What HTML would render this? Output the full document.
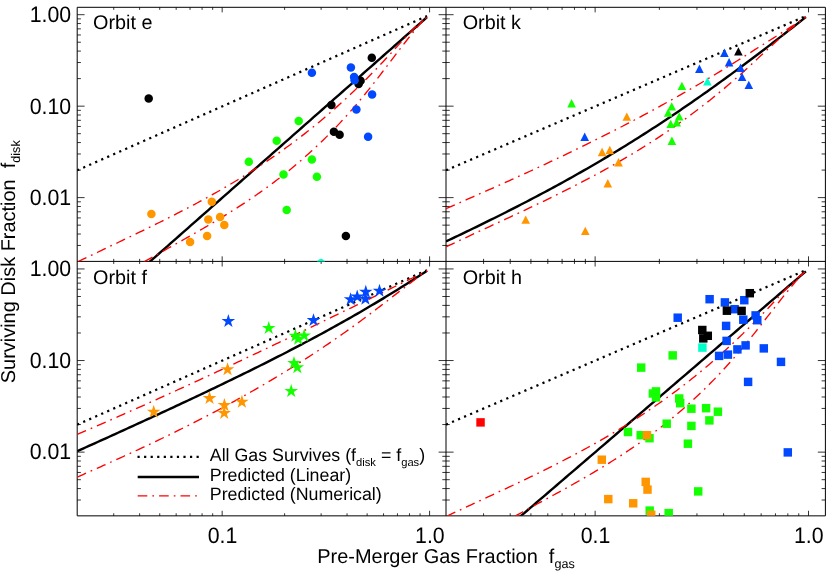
<!DOCTYPE html>
<html><head><meta charset="utf-8"><title>Surviving disk fraction</title>
<style>html,body{margin:0;padding:0;background:#fff}svg{display:block}text{font-family:"Liberation Sans",sans-serif;fill:#000;text-rendering:geometricPrecision}svg{will-change:transform;opacity:.999}</style></head><body>
<svg width="830" height="573" viewBox="0 0 830 573">
<rect width="830" height="573" fill="#fff"/>
<path d="M113.72 7.3L113.72 9.84M113.72 261.4L113.72 258.86M139.64 7.3L139.64 9.84M139.64 261.4L139.64 258.86M159.74 7.3L159.74 9.84M159.74 261.4L159.74 258.86M176.16 7.3L176.16 9.84M176.16 261.4L176.16 258.86M190.04 7.3L190.04 9.84M190.04 261.4L190.04 258.86M202.07 7.3L202.07 9.84M202.07 261.4L202.07 258.86M212.68 7.3L212.68 9.84M212.68 261.4L212.68 258.86M222.17 7.3L222.17 12.38M222.17 261.4L222.17 256.32M284.61 7.3L284.61 9.84M284.61 261.4L284.61 258.86M321.13 7.3L321.13 9.84M321.13 261.4L321.13 258.86M347.04 7.3L347.04 9.84M347.04 261.4L347.04 258.86M367.14 7.3L367.14 9.84M367.14 261.4L367.14 258.86M383.56 7.3L383.56 9.84M383.56 261.4L383.56 258.86M397.45 7.3L397.45 9.84M397.45 261.4L397.45 258.86M409.48 7.3L409.48 9.84M409.48 261.4L409.48 258.86M420.09 7.3L420.09 9.84M420.09 261.4L420.09 258.86M429.58 7.3L429.58 12.38M429.58 261.4L429.58 256.32M77.2 245.44L80.89 245.44M446 245.44L442.31 245.44M77.2 234.02L80.89 234.02M446 234.02L442.31 234.02M77.2 225.15L80.89 225.15M446 225.15L442.31 225.15M77.2 217.91L80.89 217.91M446 217.91L442.31 217.91M77.2 211.79L80.89 211.79M446 211.79L442.31 211.79M77.2 206.48L80.89 206.48M446 206.48L442.31 206.48M77.2 201.8L80.89 201.8M446 201.8L442.31 201.8M77.2 197.62L84.58 197.62M446 197.62L438.62 197.62M77.2 170.09L80.89 170.09M446 170.09L442.31 170.09M77.2 153.98L80.89 153.98M446 153.98L442.31 153.98M77.2 142.55L80.89 142.55M446 142.55L442.31 142.55M77.2 133.69L80.89 133.69M446 133.69L442.31 133.69M77.2 126.45L80.89 126.45M446 126.45L442.31 126.45M77.2 120.32L80.89 120.32M446 120.32L442.31 120.32M77.2 115.02L80.89 115.02M446 115.02L442.31 115.02M77.2 110.34L80.89 110.34M446 110.34L442.31 110.34M77.2 106.16L84.58 106.16M446 106.16L438.62 106.16M77.2 78.62L80.89 78.62M446 78.62L442.31 78.62M77.2 62.52L80.89 62.52M446 62.52L442.31 62.52M77.2 51.09L80.89 51.09M446 51.09L442.31 51.09M77.2 42.23L80.89 42.23M446 42.23L442.31 42.23M77.2 34.98L80.89 34.98M446 34.98L442.31 34.98M77.2 28.86L80.89 28.86M446 28.86L442.31 28.86M77.2 23.56L80.89 23.56M446 23.56L442.31 23.56M77.2 18.88L80.89 18.88M446 18.88L442.31 18.88M77.2 14.69L84.58 14.69M446 14.69L438.62 14.69" fill="none" stroke="#000" stroke-width="0.8"/>
<path d="M483.57 7.3L483.57 9.84M483.57 261.4L483.57 258.86M510.23 7.3L510.23 9.84M510.23 261.4L510.23 258.86M530.91 7.3L530.91 9.84M530.91 261.4L530.91 258.86M547.8 7.3L547.8 9.84M547.8 261.4L547.8 258.86M562.09 7.3L562.09 9.84M562.09 261.4L562.09 258.86M574.46 7.3L574.46 9.84M574.46 261.4L574.46 258.86M585.37 7.3L585.37 9.84M585.37 261.4L585.37 258.86M595.14 7.3L595.14 12.38M595.14 261.4L595.14 256.32M659.37 7.3L659.37 9.84M659.37 261.4L659.37 258.86M696.94 7.3L696.94 9.84M696.94 261.4L696.94 258.86M723.6 7.3L723.6 9.84M723.6 261.4L723.6 258.86M744.28 7.3L744.28 9.84M744.28 261.4L744.28 258.86M761.17 7.3L761.17 9.84M761.17 261.4L761.17 258.86M775.45 7.3L775.45 9.84M775.45 261.4L775.45 258.86M787.83 7.3L787.83 9.84M787.83 261.4L787.83 258.86M798.74 7.3L798.74 9.84M798.74 261.4L798.74 258.86M808.51 7.3L808.51 12.38M808.51 261.4L808.51 256.32M446 245.44L449.79 245.44M825.4 245.44L821.61 245.44M446 234.02L449.79 234.02M825.4 234.02L821.61 234.02M446 225.15L449.79 225.15M825.4 225.15L821.61 225.15M446 217.91L449.79 217.91M825.4 217.91L821.61 217.91M446 211.79L449.79 211.79M825.4 211.79L821.61 211.79M446 206.48L449.79 206.48M825.4 206.48L821.61 206.48M446 201.8L449.79 201.8M825.4 201.8L821.61 201.8M446 197.62L453.59 197.62M825.4 197.62L817.81 197.62M446 170.09L449.79 170.09M825.4 170.09L821.61 170.09M446 153.98L449.79 153.98M825.4 153.98L821.61 153.98M446 142.55L449.79 142.55M825.4 142.55L821.61 142.55M446 133.69L449.79 133.69M825.4 133.69L821.61 133.69M446 126.45L449.79 126.45M825.4 126.45L821.61 126.45M446 120.32L449.79 120.32M825.4 120.32L821.61 120.32M446 115.02L449.79 115.02M825.4 115.02L821.61 115.02M446 110.34L449.79 110.34M825.4 110.34L821.61 110.34M446 106.16L453.59 106.16M825.4 106.16L817.81 106.16M446 78.62L449.79 78.62M825.4 78.62L821.61 78.62M446 62.52L449.79 62.52M825.4 62.52L821.61 62.52M446 51.09L449.79 51.09M825.4 51.09L821.61 51.09M446 42.23L449.79 42.23M825.4 42.23L821.61 42.23M446 34.98L449.79 34.98M825.4 34.98L821.61 34.98M446 28.86L449.79 28.86M825.4 28.86L821.61 28.86M446 23.56L449.79 23.56M825.4 23.56L821.61 23.56M446 18.88L449.79 18.88M825.4 18.88L821.61 18.88M446 14.69L453.59 14.69M825.4 14.69L817.81 14.69" fill="none" stroke="#000" stroke-width="0.8"/>
<path d="M113.72 261.4L113.72 263.94M113.72 515.85L113.72 513.31M139.64 261.4L139.64 263.94M139.64 515.85L139.64 513.31M159.74 261.4L159.74 263.94M159.74 515.85L159.74 513.31M176.16 261.4L176.16 263.94M176.16 515.85L176.16 513.31M190.04 261.4L190.04 263.94M190.04 515.85L190.04 513.31M202.07 261.4L202.07 263.94M202.07 515.85L202.07 513.31M212.68 261.4L212.68 263.94M212.68 515.85L212.68 513.31M222.17 261.4L222.17 266.49M222.17 515.85L222.17 510.76M284.61 261.4L284.61 263.94M284.61 515.85L284.61 513.31M321.13 261.4L321.13 263.94M321.13 515.85L321.13 513.31M347.04 261.4L347.04 263.94M347.04 515.85L347.04 513.31M367.14 261.4L367.14 263.94M367.14 515.85L367.14 513.31M383.56 261.4L383.56 263.94M383.56 515.85L383.56 513.31M397.45 261.4L397.45 263.94M397.45 515.85L397.45 513.31M409.48 261.4L409.48 263.94M409.48 515.85L409.48 513.31M420.09 261.4L420.09 263.94M420.09 515.85L420.09 513.31M429.58 261.4L429.58 266.49M429.58 515.85L429.58 510.76M77.2 500.02L80.89 500.02M446 500.02L442.31 500.02M77.2 488.58L80.89 488.58M446 488.58L442.31 488.58M77.2 479.7L80.89 479.7M446 479.7L442.31 479.7M77.2 472.45L80.89 472.45M446 472.45L442.31 472.45M77.2 466.32L80.89 466.32M446 466.32L442.31 466.32M77.2 461.01L80.89 461.01M446 461.01L442.31 461.01M77.2 456.32L80.89 456.32M446 456.32L442.31 456.32M77.2 452.13L84.58 452.13M446 452.13L438.62 452.13M77.2 424.56L80.89 424.56M446 424.56L442.31 424.56M77.2 408.43L80.89 408.43M446 408.43L442.31 408.43M77.2 396.99L80.89 396.99M446 396.99L442.31 396.99M77.2 388.11L80.89 388.11M446 388.11L442.31 388.11M77.2 380.86L80.89 380.86M446 380.86L442.31 380.86M77.2 374.73L80.89 374.73M446 374.73L442.31 374.73M77.2 369.42L80.89 369.42M446 369.42L442.31 369.42M77.2 364.73L80.89 364.73M446 364.73L442.31 364.73M77.2 360.54L84.58 360.54M446 360.54L438.62 360.54M77.2 332.97L80.89 332.97M446 332.97L442.31 332.97M77.2 316.84L80.89 316.84M446 316.84L442.31 316.84M77.2 305.4L80.89 305.4M446 305.4L442.31 305.4M77.2 296.52L80.89 296.52M446 296.52L442.31 296.52M77.2 289.27L80.89 289.27M446 289.27L442.31 289.27M77.2 283.14L80.89 283.14M446 283.14L442.31 283.14M77.2 277.83L80.89 277.83M446 277.83L442.31 277.83M77.2 273.14L80.89 273.14M446 273.14L442.31 273.14M77.2 268.95L84.58 268.95M446 268.95L438.62 268.95" fill="none" stroke="#000" stroke-width="0.8"/>
<path d="M483.57 261.4L483.57 263.94M483.57 515.85L483.57 513.31M510.23 261.4L510.23 263.94M510.23 515.85L510.23 513.31M530.91 261.4L530.91 263.94M530.91 515.85L530.91 513.31M547.8 261.4L547.8 263.94M547.8 515.85L547.8 513.31M562.09 261.4L562.09 263.94M562.09 515.85L562.09 513.31M574.46 261.4L574.46 263.94M574.46 515.85L574.46 513.31M585.37 261.4L585.37 263.94M585.37 515.85L585.37 513.31M595.14 261.4L595.14 266.49M595.14 515.85L595.14 510.76M659.37 261.4L659.37 263.94M659.37 515.85L659.37 513.31M696.94 261.4L696.94 263.94M696.94 515.85L696.94 513.31M723.6 261.4L723.6 263.94M723.6 515.85L723.6 513.31M744.28 261.4L744.28 263.94M744.28 515.85L744.28 513.31M761.17 261.4L761.17 263.94M761.17 515.85L761.17 513.31M775.45 261.4L775.45 263.94M775.45 515.85L775.45 513.31M787.83 261.4L787.83 263.94M787.83 515.85L787.83 513.31M798.74 261.4L798.74 263.94M798.74 515.85L798.74 513.31M808.51 261.4L808.51 266.49M808.51 515.85L808.51 510.76M446 500.02L449.79 500.02M825.4 500.02L821.61 500.02M446 488.58L449.79 488.58M825.4 488.58L821.61 488.58M446 479.7L449.79 479.7M825.4 479.7L821.61 479.7M446 472.45L449.79 472.45M825.4 472.45L821.61 472.45M446 466.32L449.79 466.32M825.4 466.32L821.61 466.32M446 461.01L449.79 461.01M825.4 461.01L821.61 461.01M446 456.32L449.79 456.32M825.4 456.32L821.61 456.32M446 452.13L453.59 452.13M825.4 452.13L817.81 452.13M446 424.56L449.79 424.56M825.4 424.56L821.61 424.56M446 408.43L449.79 408.43M825.4 408.43L821.61 408.43M446 396.99L449.79 396.99M825.4 396.99L821.61 396.99M446 388.11L449.79 388.11M825.4 388.11L821.61 388.11M446 380.86L449.79 380.86M825.4 380.86L821.61 380.86M446 374.73L449.79 374.73M825.4 374.73L821.61 374.73M446 369.42L449.79 369.42M825.4 369.42L821.61 369.42M446 364.73L449.79 364.73M825.4 364.73L821.61 364.73M446 360.54L453.59 360.54M825.4 360.54L817.81 360.54M446 332.97L449.79 332.97M825.4 332.97L821.61 332.97M446 316.84L449.79 316.84M825.4 316.84L821.61 316.84M446 305.4L449.79 305.4M825.4 305.4L821.61 305.4M446 296.52L449.79 296.52M825.4 296.52L821.61 296.52M446 289.27L449.79 289.27M825.4 289.27L821.61 289.27M446 283.14L449.79 283.14M825.4 283.14L821.61 283.14M446 277.83L449.79 277.83M825.4 277.83L821.61 277.83M446 273.14L449.79 273.14M825.4 273.14L821.61 273.14M446 268.95L453.59 268.95M825.4 268.95L817.81 268.95" fill="none" stroke="#000" stroke-width="0.8"/>
<path d="M77.2 7.3H825.4V515.85H77.2ZM446 7.3V515.85M77.2 261.4H825.4" fill="none" stroke="#000" stroke-width="1.0"/>
<clipPath id="ce"><rect x="77.2" y="7.3" width="368.8" height="254.1"/></clipPath>
<g clip-path="url(#ce)" fill="none">
<path d="M77.2 170.34 L252.11 93.2 L427.02 16.07" stroke="#000" stroke-width="2.25" stroke-dasharray="2.2 4.36"/>
<path d="M77.2 325.73 L80.12 323.16 L83.03 320.59 L85.95 318.02 L88.86 315.45 L91.78 312.87 L94.69 310.3 L97.61 307.73 L100.52 305.16 L103.44 302.59 L106.35 300.02 L109.27 297.45 L112.18 294.88 L115.1 292.31 L118.01 289.73 L120.93 287.16 L123.84 284.59 L126.76 282.02 L129.67 279.45 L132.59 276.88 L135.5 274.31 L138.42 271.74 L141.33 269.17 L144.25 266.6 L147.16 264.02 L150.08 261.45 L152.99 258.88 L155.91 256.31 L158.82 253.74 L161.74 251.17 L164.65 248.6 L167.57 246.03 L170.49 243.46 L173.4 240.88 L176.32 238.31 L179.23 235.74 L182.15 233.17 L185.06 230.6 L187.98 228.03 L190.89 225.46 L193.81 222.89 L196.72 220.32 L199.64 217.74 L202.55 215.17 L205.47 212.6 L208.38 210.03 L211.3 207.46 L214.21 204.89 L217.13 202.32 L220.04 199.75 L222.96 197.18 L225.87 194.6 L228.79 192.03 L231.7 189.46 L234.62 186.89 L237.53 184.32 L240.45 181.75 L243.36 179.18 L246.28 176.61 L249.19 174.04 L252.11 171.46 L255.02 168.89 L257.94 166.32 L260.86 163.75 L263.77 161.18 L266.69 158.61 L269.6 156.04 L272.52 153.47 L275.43 150.9 L278.35 148.32 L281.26 145.75 L284.18 143.18 L287.09 140.61 L290.01 138.04 L292.92 135.47 L295.84 132.9 L298.75 130.33 L301.67 127.76 L304.58 125.18 L307.5 122.61 L310.41 120.04 L313.33 117.47 L316.24 114.9 L319.16 112.33 L322.07 109.76 L324.99 107.19 L327.9 104.62 L330.82 102.04 L333.73 99.47 L336.65 96.9 L339.56 94.33 L342.48 91.76 L345.39 89.19 L348.31 86.62 L351.23 84.05 L354.14 81.48 L357.06 78.9 L359.97 76.33 L362.89 73.76 L365.8 71.19 L368.72 68.62 L371.63 66.05 L374.55 63.48 L377.46 60.91 L380.38 58.34 L383.29 55.76 L386.21 53.19 L389.12 50.62 L392.04 48.05 L394.95 45.48 L397.87 42.91 L400.78 40.34 L403.7 37.77 L406.61 35.2 L409.53 32.62 L412.44 30.05 L415.36 27.48 L418.27 24.91 L421.19 22.34 L424.1 19.77 L427.02 17.2" stroke="#000" stroke-width="2.4"/>
<path d="M77.78 261.8 L80.69 260.39 L83.6 258.98 L86.51 257.58 L89.42 256.18 L92.33 254.79 L95.24 253.39 L98.16 252 L101.07 250.61 L103.98 249.22 L106.89 247.83 L109.8 246.44 L112.71 245.04 L115.62 243.65 L118.53 242.26 L121.44 240.87 L124.35 239.48 L127.26 238.09 L130.17 236.69 L133.08 235.29 L135.99 233.89 L138.9 232.48 L141.81 231.08 L144.72 229.67 L147.63 228.25 L150.54 226.83 L153.45 225.4 L156.36 223.96 L159.27 222.52 L162.18 221.07 L165.09 219.61 L168 218.15 L170.91 216.68 L173.82 215.2 L176.73 213.71 L179.64 212.21 L182.55 210.7 L185.46 209.19 L188.37 207.66 L191.28 206.13 L194.2 204.59 L197.11 203.03 L200.02 201.45 L202.93 199.87 L205.84 198.27 L208.75 196.66 L211.66 195.03 L214.57 193.4 L217.48 191.75 L220.39 190.08 L223.3 188.4 L226.21 186.7 L229.12 184.99 L232.03 183.26 L234.94 181.52 L237.85 179.75 L240.76 177.97 L243.67 176.18 L246.58 174.37 L249.49 172.54 L252.4 170.69 L255.31 168.81 L258.22 166.92 L261.13 165.01 L264.04 163.08 L266.95 161.12 L269.86 159.14 L272.77 157.14 L275.68 155.12 L278.59 153.08 L281.5 151.01 L284.41 148.92 L287.32 146.81 L290.24 144.68 L293.15 142.52 L296.06 140.33 L298.97 138.13 L301.88 135.89 L304.79 133.63 L307.7 131.34 L310.61 129.02 L313.52 126.68 L316.43 124.3 L319.34 121.9 L322.25 119.47 L325.16 117.01 L328.07 114.52 L330.98 112.01 L333.89 109.46 L336.8 106.88 L339.71 104.27 L342.62 101.63 L345.53 98.96 L348.44 96.26 L351.35 93.54 L354.26 90.78 L357.17 87.99 L360.08 85.16 L362.99 82.31 L365.9 79.42 L368.81 76.5 L371.72 73.55 L374.63 70.57 L377.54 67.55 L380.45 64.51 L383.36 61.44 L386.28 58.33 L389.19 55.19 L392.1 52.01 L395.01 48.8 L397.92 45.6 L400.83 42.4 L403.74 39.22 L406.65 36.1 L409.56 33.03 L412.47 30.06 L415.38 27.2 L418.29 24.46 L421.2 21.91 L424.11 19.51 L427.02 17.28" stroke="#ff0000" stroke-width="1.35" stroke-dasharray="9.6 5.05 1.7 5.05"/>
<path d="M144.14 261.8 L146.5 260.46 L148.86 259.12 L151.21 257.79 L153.57 256.45 L155.93 255.12 L158.28 253.8 L160.64 252.47 L163 251.15 L165.36 249.82 L167.71 248.5 L170.07 247.18 L172.43 245.86 L174.79 244.54 L177.14 243.22 L179.5 241.89 L181.86 240.56 L184.22 239.23 L186.57 237.9 L188.93 236.56 L191.29 235.23 L193.64 233.89 L196 232.55 L198.36 231.19 L200.72 229.83 L203.07 228.47 L205.43 227.09 L207.79 225.71 L210.15 224.33 L212.5 222.93 L214.86 221.53 L217.22 220.12 L219.58 218.7 L221.93 217.26 L224.29 215.82 L226.65 214.36 L229 212.9 L231.36 211.42 L233.72 209.93 L236.08 208.43 L238.43 206.92 L240.79 205.39 L243.15 203.86 L245.51 202.31 L247.86 200.74 L250.22 199.16 L252.58 197.56 L254.93 195.94 L257.29 194.3 L259.65 192.65 L262.01 190.99 L264.36 189.3 L266.72 187.6 L269.08 185.87 L271.44 184.13 L273.79 182.37 L276.15 180.58 L278.51 178.78 L280.87 176.95 L283.22 175.11 L285.58 173.24 L287.94 171.34 L290.29 169.43 L292.65 167.49 L295.01 165.53 L297.37 163.55 L299.72 161.54 L302.08 159.51 L304.44 157.44 L306.8 155.35 L309.15 153.24 L311.51 151.1 L313.87 148.93 L316.23 146.73 L318.58 144.5 L320.94 142.25 L323.3 139.96 L325.65 137.64 L328.01 135.3 L330.37 132.92 L332.73 130.51 L335.08 128.07 L337.44 125.6 L339.8 123.09 L342.16 120.55 L344.51 117.98 L346.87 115.38 L349.23 112.75 L351.58 110.08 L353.94 107.38 L356.3 104.63 L358.66 101.85 L361.01 99.03 L363.37 96.17 L365.73 93.27 L368.09 90.35 L370.44 87.39 L372.8 84.4 L375.16 81.39 L377.52 78.36 L379.87 75.31 L382.23 72.24 L384.59 69.16 L386.94 66.08 L389.3 62.98 L391.66 59.89 L394.02 56.8 L396.37 53.71 L398.73 50.64 L401.09 47.58 L403.45 44.53 L405.8 41.51 L408.16 38.48 L410.52 35.48 L412.88 32.54 L415.23 29.6 L417.59 26.72 L419.95 24.04 L422.3 21.55 L424.66 19.21 L427.02 17.03" stroke="#ff0000" stroke-width="1.35" stroke-dasharray="9.6 5.05 1.7 5.05"/>
</g><g clip-path="url(#ce)">
<circle cx="148.7" cy="98.6" r="4.25" fill="#000000"/>
<circle cx="371.8" cy="57.7" r="4.25" fill="#000000"/>
<circle cx="360.6" cy="80.7" r="4.25" fill="#000000"/>
<circle cx="358.6" cy="83.9" r="4.25" fill="#000000"/>
<circle cx="331.4" cy="105.1" r="4.25" fill="#000000"/>
<circle cx="333.9" cy="131.8" r="4.25" fill="#000000"/>
<circle cx="339.6" cy="134.8" r="4.25" fill="#000000"/>
<circle cx="345.9" cy="236.1" r="4.25" fill="#000000"/>
<circle cx="321" cy="263.35" r="4.25" fill="#00ffcc"/>
<circle cx="211.8" cy="201.8" r="4.25" fill="#ff9600"/>
<circle cx="151.4" cy="213.9" r="4.25" fill="#ff9600"/>
<circle cx="220.1" cy="216.9" r="4.25" fill="#ff9600"/>
<circle cx="208.3" cy="219.6" r="4.25" fill="#ff9600"/>
<circle cx="224.3" cy="224.9" r="4.25" fill="#ff9600"/>
<circle cx="207.1" cy="236.1" r="4.25" fill="#ff9600"/>
<circle cx="190.1" cy="241.9" r="4.25" fill="#ff9600"/>
<circle cx="298.7" cy="121.1" r="4.25" fill="#14ff00"/>
<circle cx="276.7" cy="140.7" r="4.25" fill="#14ff00"/>
<circle cx="248.8" cy="161.7" r="4.25" fill="#14ff00"/>
<circle cx="311.9" cy="159.5" r="4.25" fill="#14ff00"/>
<circle cx="283.5" cy="174.4" r="4.25" fill="#14ff00"/>
<circle cx="316.9" cy="176.7" r="4.25" fill="#14ff00"/>
<circle cx="286.7" cy="209.9" r="4.25" fill="#14ff00"/>
<circle cx="350.9" cy="67.4" r="4.25" fill="#0048ff"/>
<circle cx="311.9" cy="72.7" r="4.25" fill="#0048ff"/>
<circle cx="354.1" cy="76.9" r="4.25" fill="#0048ff"/>
<circle cx="354.6" cy="80.2" r="4.25" fill="#0048ff"/>
<circle cx="372.1" cy="94.4" r="4.25" fill="#0048ff"/>
<circle cx="356.4" cy="109.4" r="4.25" fill="#0048ff"/>
<circle cx="368.1" cy="136.8" r="4.25" fill="#0048ff"/>
</g>
<clipPath id="ck"><rect x="446" y="7.3" width="379.4" height="254.1"/></clipPath>
<g clip-path="url(#ck)" fill="none">
<path d="M446 170.34 L625.94 93.2 L805.87 16.07" stroke="#000" stroke-width="2.25" stroke-dasharray="2.2 4.36"/>
<path d="M446 241.43 L449 240.01 L452 238.59 L455 237.16 L458 235.73 L460.99 234.3 L463.99 232.86 L466.99 231.42 L469.99 229.97 L472.99 228.52 L475.99 227.06 L478.99 225.6 L481.99 224.13 L484.99 222.66 L487.99 221.18 L490.98 219.7 L493.98 218.21 L496.98 216.71 L499.98 215.21 L502.98 213.71 L505.98 212.2 L508.98 210.68 L511.98 209.16 L514.98 207.63 L517.97 206.09 L520.97 204.55 L523.97 203 L526.97 201.44 L529.97 199.88 L532.97 198.31 L535.97 196.73 L538.97 195.14 L541.97 193.55 L544.97 191.95 L547.96 190.34 L550.96 188.73 L553.96 187.1 L556.96 185.47 L559.96 183.83 L562.96 182.18 L565.96 180.52 L568.96 178.86 L571.96 177.18 L574.95 175.5 L577.95 173.81 L580.95 172.1 L583.95 170.39 L586.95 168.67 L589.95 166.94 L592.95 165.21 L595.95 163.46 L598.95 161.7 L601.95 159.93 L604.94 158.15 L607.94 156.37 L610.94 154.57 L613.94 152.76 L616.94 150.95 L619.94 149.12 L622.94 147.28 L625.94 145.43 L628.94 143.57 L631.93 141.71 L634.93 139.83 L637.93 137.94 L640.93 136.04 L643.93 134.13 L646.93 132.21 L649.93 130.28 L652.93 128.34 L655.93 126.39 L658.93 124.42 L661.92 122.45 L664.92 120.47 L667.92 118.48 L670.92 116.47 L673.92 114.46 L676.92 112.44 L679.92 110.4 L682.92 108.36 L685.92 106.31 L688.91 104.24 L691.91 102.17 L694.91 100.08 L697.91 97.99 L700.91 95.89 L703.91 93.78 L706.91 91.65 L709.91 89.52 L712.91 87.38 L715.91 85.23 L718.9 83.07 L721.9 80.9 L724.9 78.73 L727.9 76.54 L730.9 74.35 L733.9 72.14 L736.9 69.93 L739.9 67.71 L742.9 65.48 L745.89 63.25 L748.89 61 L751.89 58.75 L754.89 56.49 L757.89 54.23 L760.89 51.95 L763.89 49.67 L766.89 47.38 L769.89 45.08 L772.89 42.78 L775.88 40.47 L778.88 38.16 L781.88 35.83 L784.88 33.5 L787.88 31.17 L790.88 28.82 L793.88 26.48 L796.88 24.12 L799.88 21.76 L802.87 19.4 L805.87 17.03" stroke="#000" stroke-width="2.4"/>
<path d="M446 208.63 L449 207.33 L452 206.02 L455 204.71 L458 203.41 L460.99 202.1 L463.99 200.79 L466.99 199.47 L469.99 198.15 L472.99 196.83 L475.99 195.51 L478.99 194.19 L481.99 192.86 L484.99 191.54 L487.99 190.21 L490.98 188.87 L493.98 187.53 L496.98 186.19 L499.98 184.85 L502.98 183.5 L505.98 182.15 L508.98 180.8 L511.98 179.45 L514.98 178.09 L517.97 176.73 L520.97 175.36 L523.97 173.99 L526.97 172.62 L529.97 171.24 L532.97 169.86 L535.97 168.47 L538.97 167.08 L541.97 165.69 L544.97 164.29 L547.96 162.88 L550.96 161.47 L553.96 160.05 L556.96 158.63 L559.96 157.21 L562.96 155.79 L565.96 154.36 L568.96 152.93 L571.96 151.48 L574.95 150.03 L577.95 148.57 L580.95 147.11 L583.95 145.65 L586.95 144.17 L589.95 142.69 L592.95 141.2 L595.95 139.71 L598.95 138.22 L601.95 136.71 L604.94 135.21 L607.94 133.69 L610.94 132.17 L613.94 130.64 L616.94 129.11 L619.94 127.57 L622.94 126.02 L625.94 124.46 L628.94 122.9 L631.93 121.33 L634.93 119.75 L637.93 118.16 L640.93 116.57 L643.93 114.96 L646.93 113.35 L649.93 111.74 L652.93 110.11 L655.93 108.48 L658.93 106.84 L661.92 105.19 L664.92 103.53 L667.92 101.87 L670.92 100.2 L673.92 98.52 L676.92 96.83 L679.92 95.13 L682.92 93.42 L685.92 91.7 L688.91 89.97 L691.91 88.23 L694.91 86.48 L697.91 84.73 L700.91 82.96 L703.91 81.19 L706.91 79.4 L709.91 77.61 L712.91 75.81 L715.91 74 L718.9 72.17 L721.9 70.34 L724.9 68.5 L727.9 66.65 L730.9 64.78 L733.9 62.91 L736.9 61.04 L739.9 59.15 L742.9 57.27 L745.89 55.37 L748.89 53.48 L751.89 51.58 L754.89 49.68 L757.89 47.78 L760.89 45.88 L763.89 43.99 L766.89 42.1 L769.89 40.22 L772.89 38.33 L775.88 36.46 L778.88 34.55 L781.88 32.63 L784.88 30.72 L787.88 28.82 L790.88 26.93 L793.88 25.08 L796.88 23.22 L799.88 21.3 L802.87 19.33 L805.87 17.3" stroke="#ff0000" stroke-width="1.35" stroke-dasharray="9.6 5.05 1.7 5.05"/>
<path d="M446 246.9 L449 245.47 L452 244.05 L455 242.64 L458 241.23 L460.99 239.83 L463.99 238.43 L466.99 237.03 L469.99 235.63 L472.99 234.23 L475.99 232.83 L478.99 231.44 L481.99 230.05 L484.99 228.67 L487.99 227.28 L490.98 225.89 L493.98 224.5 L496.98 223.11 L499.98 221.72 L502.98 220.33 L505.98 218.93 L508.98 217.54 L511.98 216.15 L514.98 214.75 L517.97 213.35 L520.97 211.94 L523.97 210.53 L526.97 209.12 L529.97 207.7 L532.97 206.28 L535.97 204.85 L538.97 203.41 L541.97 201.97 L544.97 200.53 L547.96 199.07 L550.96 197.6 L553.96 196.13 L556.96 194.66 L559.96 193.18 L562.96 191.69 L565.96 190.19 L568.96 188.68 L571.96 187.16 L574.95 185.62 L577.95 184.08 L580.95 182.53 L583.95 180.96 L586.95 179.38 L589.95 177.79 L592.95 176.19 L595.95 174.58 L598.95 172.96 L601.95 171.32 L604.94 169.66 L607.94 167.99 L610.94 166.31 L613.94 164.61 L616.94 162.9 L619.94 161.17 L622.94 159.43 L625.94 157.67 L628.94 155.9 L631.93 154.1 L634.93 152.29 L637.93 150.46 L640.93 148.61 L643.93 146.74 L646.93 144.85 L649.93 142.94 L652.93 141.01 L655.93 139.07 L658.93 137.1 L661.92 135.11 L664.92 133.1 L667.92 131.07 L670.92 129.02 L673.92 126.95 L676.92 124.86 L679.92 122.74 L682.92 120.6 L685.92 118.43 L688.91 116.23 L691.91 114.01 L694.91 111.77 L697.91 109.5 L700.91 107.21 L703.91 104.89 L706.91 102.54 L709.91 100.16 L712.91 97.76 L715.91 95.33 L718.9 92.87 L721.9 90.39 L724.9 87.88 L727.9 85.35 L730.9 82.78 L733.9 80.18 L736.9 77.54 L739.9 74.88 L742.9 72.18 L745.89 69.46 L748.89 66.71 L751.89 63.94 L754.89 61.16 L757.89 58.37 L760.89 55.58 L763.89 52.79 L766.89 50.01 L769.89 47.26 L772.89 44.52 L775.88 41.83 L778.88 39.13 L781.88 36.46 L784.88 33.84 L787.88 31.26 L790.88 28.75 L793.88 26.32 L796.88 23.95 L799.88 21.63 L802.87 19.36 L805.87 17.14" stroke="#ff0000" stroke-width="1.35" stroke-dasharray="9.6 5.05 1.7 5.05"/>
</g><g clip-path="url(#ck)">
<path d="M626.8 112.4 L631.1 120.8 L622.5 120.8Z" fill="#ff9600"/>
<path d="M602.1 147.8 L606.4 156.2 L597.8 156.2Z" fill="#ff9600"/>
<path d="M609.8 145.8 L614.1 154.2 L605.5 154.2Z" fill="#ff9600"/>
<path d="M618.5 158 L622.8 166.4 L614.2 166.4Z" fill="#ff9600"/>
<path d="M607.8 179 L612.1 187.4 L603.5 187.4Z" fill="#ff9600"/>
<path d="M525.7 215.4 L530 223.8 L521.4 223.8Z" fill="#ff9600"/>
<path d="M585.3 226.7 L589.6 235.1 L581 235.1Z" fill="#ff9600"/>
<path d="M571.6 99 L575.9 107.4 L567.3 107.4Z" fill="#14ff00"/>
<path d="M681.9 81.7 L686.2 90.1 L677.6 90.1Z" fill="#14ff00"/>
<path d="M671.7 102.2 L676 110.6 L667.4 110.6Z" fill="#14ff00"/>
<path d="M668.2 108.4 L672.5 116.8 L663.9 116.8Z" fill="#14ff00"/>
<path d="M679.2 112.2 L683.5 120.6 L674.9 120.6Z" fill="#14ff00"/>
<path d="M676.7 118.2 L681 126.6 L672.4 126.6Z" fill="#14ff00"/>
<path d="M670.7 119.7 L675 128.1 L666.4 128.1Z" fill="#14ff00"/>
<path d="M671.9 136.6 L676.2 145 L667.6 145Z" fill="#14ff00"/>
<path d="M707.4 77.2 L711.7 85.6 L703.1 85.6Z" fill="#00ffcc"/>
<path d="M584.7 132.6 L589 141 L580.4 141Z" fill="#0048ff"/>
<path d="M724.4 48.5 L728.7 56.9 L720.1 56.9Z" fill="#0048ff"/>
<path d="M729.1 58 L733.4 66.4 L724.8 66.4Z" fill="#0048ff"/>
<path d="M740.6 63.5 L744.9 71.9 L736.3 71.9Z" fill="#0048ff"/>
<path d="M699.4 64.5 L703.7 72.9 L695.1 72.9Z" fill="#0048ff"/>
<path d="M742.1 72.7 L746.4 81.1 L737.8 81.1Z" fill="#0048ff"/>
<path d="M748.8 80.7 L753.1 89.1 L744.5 89.1Z" fill="#0048ff"/>
<path d="M738.4 47.2 L742.7 55.6 L734.1 55.6Z" fill="#000000"/>
</g>
<clipPath id="cf"><rect x="77.2" y="261.4" width="368.8" height="254.45"/></clipPath>
<g clip-path="url(#cf)" fill="none">
<path d="M77.2 424.66 L252.11 347.42 L427.02 270.18" stroke="#000" stroke-width="2.25" stroke-dasharray="2.2 4.36"/>
<path d="M77.2 451.22 L80.12 449.9 L83.03 448.59 L85.95 447.27 L88.86 445.96 L91.78 444.64 L94.69 443.33 L97.61 442.01 L100.52 440.69 L103.44 439.37 L106.35 438.05 L109.27 436.73 L112.18 435.4 L115.1 434.08 L118.01 432.75 L120.93 431.43 L123.84 430.1 L126.76 428.77 L129.67 427.44 L132.59 426.11 L135.5 424.77 L138.42 423.44 L141.33 422.1 L144.25 420.76 L147.16 419.42 L150.08 418.08 L152.99 416.74 L155.91 415.4 L158.82 414.05 L161.74 412.7 L164.65 411.35 L167.57 410 L170.49 408.64 L173.4 407.29 L176.32 405.93 L179.23 404.57 L182.15 403.21 L185.06 401.84 L187.98 400.47 L190.89 399.1 L193.81 397.73 L196.72 396.36 L199.64 394.98 L202.55 393.6 L205.47 392.21 L208.38 390.83 L211.3 389.44 L214.21 388.05 L217.13 386.65 L220.04 385.25 L222.96 383.85 L225.87 382.44 L228.79 381.03 L231.7 379.62 L234.62 378.2 L237.53 376.78 L240.45 375.36 L243.36 373.93 L246.28 372.5 L249.19 371.06 L252.11 369.62 L255.02 368.18 L257.94 366.73 L260.86 365.27 L263.77 363.81 L266.69 362.35 L269.6 360.88 L272.52 359.4 L275.43 357.92 L278.35 356.44 L281.26 354.95 L284.18 353.45 L287.09 351.95 L290.01 350.44 L292.92 348.93 L295.84 347.41 L298.75 345.88 L301.67 344.35 L304.58 342.81 L307.5 341.27 L310.41 339.71 L313.33 338.16 L316.24 336.59 L319.16 335.02 L322.07 333.44 L324.99 331.85 L327.9 330.25 L330.82 328.65 L333.73 327.04 L336.65 325.42 L339.56 323.79 L342.48 322.16 L345.39 320.52 L348.31 318.87 L351.23 317.21 L354.14 315.54 L357.06 313.86 L359.97 312.17 L362.89 310.48 L365.8 308.77 L368.72 307.06 L371.63 305.34 L374.55 303.61 L377.46 301.86 L380.38 300.11 L383.29 298.35 L386.21 296.58 L389.12 294.8 L392.04 293.01 L394.95 291.21 L397.87 289.4 L400.78 287.58 L403.7 285.75 L406.61 283.91 L409.53 282.06 L412.44 280.2 L415.36 278.33 L418.27 276.45 L421.19 274.55 L424.1 272.65 L427.02 270.74" stroke="#000" stroke-width="2.4"/>
<path d="M77.2 434.3 L80.12 433.06 L83.03 431.82 L85.95 430.57 L88.86 429.32 L91.78 428.07 L94.69 426.81 L97.61 425.55 L100.52 424.29 L103.44 423.02 L106.35 421.75 L109.27 420.47 L112.18 419.2 L115.1 417.92 L118.01 416.64 L120.93 415.36 L123.84 414.07 L126.76 412.78 L129.67 411.49 L132.59 410.2 L135.5 408.9 L138.42 407.6 L141.33 406.31 L144.25 405.01 L147.16 403.7 L150.08 402.39 L152.99 401.08 L155.91 399.77 L158.82 398.46 L161.74 397.14 L164.65 395.82 L167.57 394.5 L170.49 393.17 L173.4 391.84 L176.32 390.51 L179.23 389.18 L182.15 387.85 L185.06 386.51 L187.98 385.17 L190.89 383.84 L193.81 382.5 L196.72 381.16 L199.64 379.81 L202.55 378.46 L205.47 377.11 L208.38 375.76 L211.3 374.41 L214.21 373.06 L217.13 371.7 L220.04 370.34 L222.96 368.98 L225.87 367.62 L228.79 366.25 L231.7 364.88 L234.62 363.52 L237.53 362.15 L240.45 360.78 L243.36 359.41 L246.28 358.04 L249.19 356.67 L252.11 355.29 L255.02 353.91 L257.94 352.53 L260.86 351.15 L263.77 349.77 L266.69 348.39 L269.6 347 L272.52 345.62 L275.43 344.22 L278.35 342.83 L281.26 341.44 L284.18 340.05 L287.09 338.66 L290.01 337.26 L292.92 335.87 L295.84 334.48 L298.75 333.09 L301.67 331.69 L304.58 330.29 L307.5 328.88 L310.41 327.48 L313.33 326.08 L316.24 324.68 L319.16 323.27 L322.07 321.87 L324.99 320.46 L327.9 319.05 L330.82 317.64 L333.73 316.23 L336.65 314.82 L339.56 313.41 L342.48 312 L345.39 310.59 L348.31 309.19 L351.23 307.78 L354.14 306.36 L357.06 304.95 L359.97 303.53 L362.89 302.11 L365.8 300.7 L368.72 299.28 L371.63 297.87 L374.55 296.45 L377.46 295.03 L380.38 293.61 L383.29 292.19 L386.21 290.77 L389.12 289.35 L392.04 287.93 L394.95 286.51 L397.87 285.09 L400.78 283.67 L403.7 282.26 L406.61 280.84 L409.53 279.42 L412.44 278 L415.36 276.58 L418.27 275.15 L421.19 273.73 L424.1 272.31 L427.02 270.89" stroke="#ff0000" stroke-width="1.35" stroke-dasharray="9.6 5.05 1.7 5.05"/>
<path d="M77.2 477.07 L80.12 475.79 L83.03 474.51 L85.95 473.23 L88.86 471.94 L91.78 470.66 L94.69 469.37 L97.61 468.07 L100.52 466.77 L103.44 465.48 L106.35 464.17 L109.27 462.86 L112.18 461.54 L115.1 460.22 L118.01 458.9 L120.93 457.58 L123.84 456.25 L126.76 454.92 L129.67 453.58 L132.59 452.23 L135.5 450.88 L138.42 449.53 L141.33 448.17 L144.25 446.81 L147.16 445.44 L150.08 444.06 L152.99 442.68 L155.91 441.29 L158.82 439.9 L161.74 438.5 L164.65 437.09 L167.57 435.67 L170.49 434.25 L173.4 432.82 L176.32 431.39 L179.23 429.95 L182.15 428.5 L185.06 427.04 L187.98 425.58 L190.89 424.11 L193.81 422.64 L196.72 421.16 L199.64 419.67 L202.55 418.17 L205.47 416.65 L208.38 415.14 L211.3 413.61 L214.21 412.07 L217.13 410.53 L220.04 408.98 L222.96 407.41 L225.87 405.84 L228.79 404.26 L231.7 402.67 L234.62 401.07 L237.53 399.46 L240.45 397.84 L243.36 396.22 L246.28 394.58 L249.19 392.94 L252.11 391.28 L255.02 389.61 L257.94 387.93 L260.86 386.24 L263.77 384.54 L266.69 382.82 L269.6 381.1 L272.52 379.36 L275.43 377.61 L278.35 375.85 L281.26 374.09 L284.18 372.3 L287.09 370.51 L290.01 368.7 L292.92 366.88 L295.84 365.06 L298.75 363.22 L301.67 361.37 L304.58 359.5 L307.5 357.62 L310.41 355.72 L313.33 353.82 L316.24 351.9 L319.16 349.96 L322.07 348.02 L324.99 346.06 L327.9 344.08 L330.82 342.1 L333.73 340.09 L336.65 338.08 L339.56 336.05 L342.48 334 L345.39 331.94 L348.31 329.87 L351.23 327.79 L354.14 325.69 L357.06 323.57 L359.97 321.44 L362.89 319.28 L365.8 317.12 L368.72 314.93 L371.63 312.74 L374.55 310.54 L377.46 308.32 L380.38 306.09 L383.29 303.86 L386.21 301.62 L389.12 299.37 L392.04 297.13 L394.95 294.88 L397.87 292.63 L400.78 290.39 L403.7 288.15 L406.61 285.92 L409.53 283.68 L412.44 281.46 L415.36 279.25 L418.27 277.04 L421.19 274.85 L424.1 272.68 L427.02 270.51" stroke="#ff0000" stroke-width="1.35" stroke-dasharray="9.6 5.05 1.7 5.05"/>
</g><g clip-path="url(#cf)">
<path d="M227.55 362.25 L229.17 367.18 L234.35 367.19 L230.17 370.25 L231.75 375.18 L227.55 372.15 L223.35 375.18 L224.93 370.25 L220.75 367.19 L225.93 367.18Z" fill="#ff9600"/>
<path d="M209.55 391.15 L211.17 396.08 L216.35 396.09 L212.17 399.15 L213.75 404.08 L209.55 401.05 L205.35 404.08 L206.93 399.15 L202.75 396.09 L207.93 396.08Z" fill="#ff9600"/>
<path d="M241.9 394.85 L243.52 399.78 L248.7 399.79 L244.52 402.85 L246.1 407.78 L241.9 404.75 L237.7 407.78 L239.28 402.85 L235.1 399.79 L240.28 399.78Z" fill="#ff9600"/>
<path d="M224.4 398.05 L226.02 402.98 L231.2 402.99 L227.02 406.05 L228.6 410.98 L224.4 407.95 L220.2 410.98 L221.78 406.05 L217.6 402.99 L222.78 402.98Z" fill="#ff9600"/>
<path d="M224.2 405.95 L225.82 410.88 L231 410.89 L226.82 413.95 L228.4 418.88 L224.2 415.85 L220 418.88 L221.58 413.95 L217.4 410.89 L222.58 410.88Z" fill="#ff9600"/>
<path d="M153.7 404.85 L155.32 409.78 L160.5 409.79 L156.32 412.85 L157.9 417.78 L153.7 414.75 L149.5 417.78 L151.08 412.85 L146.9 409.79 L152.08 409.78Z" fill="#ff9600"/>
<path d="M268.75 320.95 L270.37 325.88 L275.55 325.89 L271.37 328.95 L272.95 333.88 L268.75 330.85 L264.55 333.88 L266.13 328.95 L261.95 325.89 L267.13 325.88Z" fill="#14ff00"/>
<path d="M295.4 328.85 L297.02 333.78 L302.2 333.79 L298.02 336.85 L299.6 341.78 L295.4 338.75 L291.2 341.78 L292.78 336.85 L288.6 333.79 L293.78 333.78Z" fill="#14ff00"/>
<path d="M304.2 328.45 L305.82 333.38 L311 333.39 L306.82 336.45 L308.4 341.38 L304.2 338.35 L300 341.38 L301.58 336.45 L297.4 333.39 L302.58 333.38Z" fill="#14ff00"/>
<path d="M298.2 331.85 L299.82 336.78 L305 336.79 L300.82 339.85 L302.4 344.78 L298.2 341.75 L294 344.78 L295.58 339.85 L291.4 336.79 L296.58 336.78Z" fill="#14ff00"/>
<path d="M294 355.95 L295.62 360.88 L300.8 360.89 L296.62 363.95 L298.2 368.88 L294 365.85 L289.8 368.88 L291.38 363.95 L287.2 360.89 L292.38 360.88Z" fill="#14ff00"/>
<path d="M297.35 360.35 L298.97 365.28 L304.15 365.29 L299.97 368.35 L301.55 373.28 L297.35 370.25 L293.15 373.28 L294.73 368.35 L290.55 365.29 L295.73 365.28Z" fill="#14ff00"/>
<path d="M291.2 384.05 L292.82 388.98 L298 388.99 L293.82 392.05 L295.4 396.98 L291.2 393.95 L287 396.98 L288.58 392.05 L284.4 388.99 L289.58 388.98Z" fill="#14ff00"/>
<path d="M228.35 314.05 L229.97 318.98 L235.15 318.99 L230.97 322.05 L232.55 326.98 L228.35 323.95 L224.15 326.98 L225.73 322.05 L221.55 318.99 L226.73 318.98Z" fill="#0048ff"/>
<path d="M379.5 283.85 L381.12 288.78 L386.3 288.79 L382.12 291.85 L383.7 296.78 L379.5 293.75 L375.3 296.78 L376.88 291.85 L372.7 288.79 L377.88 288.78Z" fill="#0048ff"/>
<path d="M365.8 284.75 L367.42 289.68 L372.6 289.69 L368.42 292.75 L370 297.68 L365.8 294.65 L361.6 297.68 L363.18 292.75 L359 289.69 L364.18 289.68Z" fill="#0048ff"/>
<path d="M357.2 289.55 L358.82 294.48 L364 294.49 L359.82 297.55 L361.4 302.48 L357.2 299.45 L353 302.48 L354.58 297.55 L350.4 294.49 L355.58 294.48Z" fill="#0048ff"/>
<path d="M350.6 292.25 L352.22 297.18 L357.4 297.19 L353.22 300.25 L354.8 305.18 L350.6 302.15 L346.4 305.18 L347.98 300.25 L343.8 297.19 L348.98 297.18Z" fill="#0048ff"/>
<path d="M365.4 291.85 L367.02 296.78 L372.2 296.79 L368.02 299.85 L369.6 304.78 L365.4 301.75 L361.2 304.78 L362.78 299.85 L358.6 296.79 L363.78 296.78Z" fill="#0048ff"/>
<path d="M313.5 313.15 L315.12 318.08 L320.3 318.09 L316.12 321.15 L317.7 326.08 L313.5 323.05 L309.3 326.08 L310.88 321.15 L306.7 318.09 L311.88 318.08Z" fill="#0048ff"/>
</g>
<clipPath id="ch"><rect x="446" y="261.4" width="379.4" height="254.45"/></clipPath>
<g clip-path="url(#ch)" fill="none">
<path d="M446 424.66 L625.94 347.42 L805.87 270.18" stroke="#000" stroke-width="2.25" stroke-dasharray="2.2 4.36"/>
<path d="M446 580.27 L449 577.69 L452 575.12 L455 572.54 L458 569.97 L460.99 567.4 L463.99 564.82 L466.99 562.25 L469.99 559.67 L472.99 557.1 L475.99 554.52 L478.99 551.95 L481.99 549.37 L484.99 546.8 L487.99 544.22 L490.98 541.65 L493.98 539.07 L496.98 536.5 L499.98 533.92 L502.98 531.35 L505.98 528.78 L508.98 526.2 L511.98 523.63 L514.98 521.05 L517.97 518.48 L520.97 515.9 L523.97 513.33 L526.97 510.75 L529.97 508.18 L532.97 505.6 L535.97 503.03 L538.97 500.45 L541.97 497.88 L544.97 495.31 L547.96 492.73 L550.96 490.16 L553.96 487.58 L556.96 485.01 L559.96 482.43 L562.96 479.86 L565.96 477.28 L568.96 474.71 L571.96 472.13 L574.95 469.56 L577.95 466.98 L580.95 464.41 L583.95 461.83 L586.95 459.26 L589.95 456.69 L592.95 454.11 L595.95 451.54 L598.95 448.96 L601.95 446.39 L604.94 443.81 L607.94 441.24 L610.94 438.66 L613.94 436.09 L616.94 433.51 L619.94 430.94 L622.94 428.36 L625.94 425.79 L628.94 423.22 L631.93 420.64 L634.93 418.07 L637.93 415.49 L640.93 412.92 L643.93 410.34 L646.93 407.77 L649.93 405.19 L652.93 402.62 L655.93 400.04 L658.93 397.47 L661.92 394.89 L664.92 392.32 L667.92 389.74 L670.92 387.17 L673.92 384.6 L676.92 382.02 L679.92 379.45 L682.92 376.87 L685.92 374.3 L688.91 371.72 L691.91 369.15 L694.91 366.57 L697.91 364 L700.91 361.42 L703.91 358.85 L706.91 356.27 L709.91 353.7 L712.91 351.13 L715.91 348.55 L718.9 345.98 L721.9 343.4 L724.9 340.83 L727.9 338.25 L730.9 335.68 L733.9 333.1 L736.9 330.53 L739.9 327.95 L742.9 325.38 L745.89 322.8 L748.89 320.23 L751.89 317.66 L754.89 315.08 L757.89 312.51 L760.89 309.93 L763.89 307.36 L766.89 304.78 L769.89 302.21 L772.89 299.63 L775.88 297.06 L778.88 294.48 L781.88 291.91 L784.88 289.33 L787.88 286.76 L790.88 284.18 L793.88 281.61 L796.88 279.04 L799.88 276.46 L802.87 273.89 L805.87 271.31" stroke="#000" stroke-width="2.4"/>
<path d="M446.6 516.25 L449.59 514.84 L452.59 513.43 L455.58 512.02 L458.58 510.63 L461.57 509.23 L464.56 507.83 L467.56 506.44 L470.55 505.04 L473.55 503.65 L476.54 502.26 L479.53 500.86 L482.53 499.47 L485.52 498.08 L488.52 496.69 L491.51 495.29 L494.5 493.9 L497.5 492.5 L500.49 491.1 L503.48 489.7 L506.48 488.3 L509.47 486.89 L512.47 485.49 L515.46 484.08 L518.45 482.66 L521.45 481.23 L524.44 479.8 L527.44 478.36 L530.43 476.91 L533.42 475.46 L536.42 474 L539.41 472.54 L542.41 471.07 L545.4 469.58 L548.39 468.09 L551.39 466.59 L554.38 465.08 L557.38 463.56 L560.37 462.04 L563.36 460.5 L566.36 458.96 L569.35 457.4 L572.35 455.82 L575.34 454.23 L578.33 452.63 L581.33 451.02 L584.32 449.39 L587.32 447.76 L590.31 446.1 L593.3 444.44 L596.3 442.75 L599.29 441.05 L602.29 439.33 L605.28 437.6 L608.27 435.86 L611.27 434.09 L614.26 432.31 L617.25 430.51 L620.25 428.7 L623.24 426.87 L626.24 425.01 L629.23 423.14 L632.22 421.24 L635.22 419.33 L638.21 417.39 L641.21 415.43 L644.2 413.45 L647.19 411.44 L650.19 409.42 L653.18 407.38 L656.18 405.31 L659.17 403.22 L662.16 401.1 L665.16 398.96 L668.15 396.8 L671.15 394.62 L674.14 392.41 L677.13 390.17 L680.13 387.9 L683.12 385.61 L686.12 383.29 L689.11 380.94 L692.1 378.56 L695.1 376.16 L698.09 373.72 L701.09 371.26 L704.08 368.77 L707.07 366.25 L710.07 363.7 L713.06 361.12 L716.06 358.5 L719.05 355.86 L722.04 353.18 L725.04 350.49 L728.03 347.76 L731.02 345 L734.02 342.2 L737.01 339.37 L740.01 336.51 L743 333.62 L745.99 330.7 L748.99 327.74 L751.98 324.75 L754.98 321.74 L757.97 318.69 L760.96 315.61 L763.96 312.5 L766.95 309.35 L769.95 306.17 L772.94 302.96 L775.93 299.75 L778.93 296.55 L781.92 293.37 L784.92 290.24 L787.91 287.17 L790.9 284.19 L793.9 281.33 L796.89 278.58 L799.89 276.02 L802.88 273.63 L805.87 271.39" stroke="#ff0000" stroke-width="1.35" stroke-dasharray="9.6 5.05 1.7 5.05"/>
<path d="M514.86 516.25 L517.29 514.91 L519.71 513.57 L522.14 512.23 L524.57 510.9 L526.99 509.56 L529.42 508.24 L531.84 506.91 L534.27 505.58 L536.69 504.26 L539.12 502.93 L541.54 501.61 L543.97 500.29 L546.39 498.97 L548.82 497.64 L551.24 496.31 L553.67 494.98 L556.09 493.65 L558.52 492.32 L560.94 490.98 L563.37 489.64 L565.79 488.3 L568.22 486.96 L570.64 485.6 L573.07 484.24 L575.49 482.87 L577.92 481.5 L580.34 480.11 L582.77 478.72 L585.19 477.33 L587.62 475.92 L590.04 474.51 L592.47 473.09 L594.89 471.65 L597.32 470.2 L599.74 468.75 L602.17 467.28 L604.59 465.8 L607.02 464.31 L609.44 462.81 L611.87 461.29 L614.29 459.77 L616.72 458.23 L619.14 456.67 L621.57 455.11 L623.99 453.52 L626.42 451.92 L628.84 450.3 L631.27 448.66 L633.69 447.01 L636.12 445.34 L638.54 443.65 L640.97 441.95 L643.39 440.22 L645.82 438.47 L648.24 436.71 L650.67 434.92 L653.09 433.12 L655.52 431.29 L657.94 429.44 L660.37 427.57 L662.79 425.67 L665.22 423.75 L667.64 421.81 L670.07 419.85 L672.49 417.86 L674.92 415.85 L677.34 413.82 L679.77 411.75 L682.19 409.66 L684.62 407.54 L687.05 405.39 L689.47 403.22 L691.9 401.02 L694.32 398.79 L696.75 396.53 L699.17 394.24 L701.6 391.92 L704.02 389.57 L706.45 387.19 L708.87 384.78 L711.3 382.34 L713.72 379.86 L716.15 377.35 L718.57 374.81 L721 372.23 L723.42 369.63 L725.85 366.99 L728.27 364.32 L730.7 361.61 L733.12 358.86 L735.55 356.08 L737.97 353.25 L740.4 350.39 L742.82 347.49 L745.25 344.56 L747.67 341.6 L750.1 338.61 L752.52 335.6 L754.95 332.56 L757.37 329.5 L759.8 326.43 L762.22 323.35 L764.65 320.26 L767.07 317.16 L769.5 314.06 L771.92 310.96 L774.35 307.87 L776.77 304.8 L779.2 301.73 L781.62 298.69 L784.05 295.65 L786.47 292.62 L788.9 289.62 L791.32 286.67 L793.75 283.73 L796.17 280.85 L798.6 278.16 L801.02 275.67 L803.45 273.32 L805.87 271.14" stroke="#ff0000" stroke-width="1.35" stroke-dasharray="9.6 5.05 1.7 5.05"/>
</g><g clip-path="url(#ch)">
<rect x="668.48" y="351.17" width="8.45" height="8.45" fill="#14ff00"/>
<rect x="636.98" y="363.38" width="8.45" height="8.45" fill="#14ff00"/>
<rect x="651.77" y="387.17" width="8.45" height="8.45" fill="#14ff00"/>
<rect x="648.67" y="389.27" width="8.45" height="8.45" fill="#14ff00"/>
<rect x="651.77" y="393.17" width="8.45" height="8.45" fill="#14ff00"/>
<rect x="674.98" y="394.27" width="8.45" height="8.45" fill="#14ff00"/>
<rect x="675.98" y="398.97" width="8.45" height="8.45" fill="#14ff00"/>
<rect x="687.17" y="404.47" width="8.45" height="8.45" fill="#14ff00"/>
<rect x="701.88" y="403.97" width="8.45" height="8.45" fill="#14ff00"/>
<rect x="713.67" y="407.47" width="8.45" height="8.45" fill="#14ff00"/>
<rect x="705.17" y="416.17" width="8.45" height="8.45" fill="#14ff00"/>
<rect x="662.48" y="419.47" width="8.45" height="8.45" fill="#14ff00"/>
<rect x="687.17" y="421.67" width="8.45" height="8.45" fill="#14ff00"/>
<rect x="623.77" y="427.77" width="8.45" height="8.45" fill="#14ff00"/>
<rect x="636.48" y="430.97" width="8.45" height="8.45" fill="#14ff00"/>
<rect x="645.27" y="433.97" width="8.45" height="8.45" fill="#14ff00"/>
<rect x="683.67" y="439.47" width="8.45" height="8.45" fill="#14ff00"/>
<rect x="693.98" y="487.17" width="8.45" height="8.45" fill="#14ff00"/>
<rect x="645.48" y="506.38" width="8.45" height="8.45" fill="#14ff00"/>
<rect x="664.48" y="508.88" width="8.45" height="8.45" fill="#14ff00"/>
<rect x="642.77" y="430.97" width="8.45" height="8.45" fill="#ff9600"/>
<rect x="597.57" y="455.47" width="8.45" height="8.45" fill="#ff9600"/>
<rect x="641.48" y="477.67" width="8.45" height="8.45" fill="#ff9600"/>
<rect x="643.27" y="485.38" width="8.45" height="8.45" fill="#ff9600"/>
<rect x="604.07" y="494.88" width="8.45" height="8.45" fill="#ff9600"/>
<rect x="628.98" y="499.07" width="8.45" height="8.45" fill="#ff9600"/>
<rect x="646.98" y="510.57" width="8.45" height="8.45" fill="#ff9600"/>
<rect x="698.17" y="343.38" width="8.45" height="8.45" fill="#00ffcc"/>
<rect x="476.32" y="418.17" width="8.45" height="8.45" fill="#ff0000"/>
<rect x="705.38" y="294.97" width="8.45" height="8.45" fill="#0048ff"/>
<rect x="740.07" y="295.97" width="8.45" height="8.45" fill="#0048ff"/>
<rect x="720.67" y="298.17" width="8.45" height="8.45" fill="#0048ff"/>
<rect x="730.38" y="304.97" width="8.45" height="8.45" fill="#0048ff"/>
<rect x="751.38" y="311.17" width="8.45" height="8.45" fill="#0048ff"/>
<rect x="673.48" y="313.47" width="8.45" height="8.45" fill="#0048ff"/>
<rect x="739.07" y="315.47" width="8.45" height="8.45" fill="#0048ff"/>
<rect x="753.07" y="315.97" width="8.45" height="8.45" fill="#0048ff"/>
<rect x="721.88" y="321.67" width="8.45" height="8.45" fill="#0048ff"/>
<rect x="722.38" y="336.67" width="8.45" height="8.45" fill="#0048ff"/>
<rect x="741.38" y="341.17" width="8.45" height="8.45" fill="#0048ff"/>
<rect x="759.57" y="344.17" width="8.45" height="8.45" fill="#0048ff"/>
<rect x="733.17" y="345.17" width="8.45" height="8.45" fill="#0048ff"/>
<rect x="723.67" y="350.38" width="8.45" height="8.45" fill="#0048ff"/>
<rect x="714.88" y="351.67" width="8.45" height="8.45" fill="#0048ff"/>
<rect x="776.77" y="357.67" width="8.45" height="8.45" fill="#0048ff"/>
<rect x="743.88" y="377.67" width="8.45" height="8.45" fill="#0048ff"/>
<rect x="783.57" y="448.17" width="8.45" height="8.45" fill="#0048ff"/>
<rect x="745.57" y="288.97" width="8.45" height="8.45" fill="#000000"/>
<rect x="722.67" y="306.47" width="8.45" height="8.45" fill="#000000"/>
<rect x="737.38" y="306.67" width="8.45" height="8.45" fill="#000000"/>
<rect x="698.07" y="325.77" width="8.45" height="8.45" fill="#000000"/>
<rect x="703.57" y="331.57" width="8.45" height="8.45" fill="#000000"/>
<rect x="699.07" y="334.17" width="8.45" height="8.45" fill="#000000"/>
</g>
<text x="93.1" y="28.9" font-size="19.8">Orbit e</text>
<text x="462.7" y="28.9" font-size="19.8">Orbit k</text>
<text x="93.1" y="283.5" font-size="19.8">Orbit f</text>
<text x="462.7" y="283.5" font-size="19.8">Orbit h</text>
<text transform="translate(71.2 22.09) scale(1 1.05)" font-size="21.3" text-anchor="end">1.00</text>
<text transform="translate(71.2 113.56) scale(1 1.05)" font-size="21.3" text-anchor="end">0.10</text>
<text transform="translate(71.2 205.02) scale(1 1.05)" font-size="21.3" text-anchor="end">0.01</text>
<text transform="translate(71.2 276.2) scale(1 1.05)" font-size="21.3" text-anchor="end">1.00</text>
<text transform="translate(71.2 367.79) scale(1 1.05)" font-size="21.3" text-anchor="end">0.10</text>
<text transform="translate(71.2 459.38) scale(1 1.05)" font-size="21.3" text-anchor="end">0.01</text>
<text transform="translate(222.47 542.7) scale(1 1.05)" font-size="21.3" text-anchor="middle">0.1</text>
<text transform="translate(429.88 542.7) scale(1 1.05)" font-size="21.3" text-anchor="middle">1.0</text>
<text transform="translate(595.44 542.7) scale(1 1.05)" font-size="21.3" text-anchor="middle">0.1</text>
<text transform="translate(808.81 542.7) scale(1 1.05)" font-size="21.3" text-anchor="middle">1.0</text>
<text x="317.3" y="562.9" font-size="19.95" xml:space="preserve">Pre-Merger Gas Fraction  f<tspan font-size="12.6" dy="4.6">gas</tspan></text>
<text transform="translate(15.1 383.2) rotate(-90)" font-size="19.95" xml:space="preserve">Surviving Disk Fraction  f<tspan font-size="12.6" dy="4.6">disk</tspan></text>
<path d="M137.5 456.9H199" stroke="#000" stroke-width="2.25" stroke-dasharray="2.2 4.36" fill="none"/>
<path d="M137.7 477H199" stroke="#000" stroke-width="2.4" fill="none"/>
<path d="M137.7 495.8H199" stroke="#ff0000" stroke-width="1.35" stroke-dasharray="9.6 5.05 1.7 5.05" fill="none"/>
<text x="209.8" y="461.4" font-size="17.8" xml:space="preserve">All Gas Survives (f<tspan font-size="11.2" dy="4.2">disk</tspan><tspan dy="-4.2"> = f</tspan><tspan font-size="11.2" dy="4.2">gas</tspan><tspan dy="-4.2">)</tspan></text>
<text x="209.8" y="481.1" font-size="17.8">Predicted (Linear)</text>
<text x="209.8" y="499.9" font-size="17.8">Predicted (Numerical)</text>
</svg></body></html>
